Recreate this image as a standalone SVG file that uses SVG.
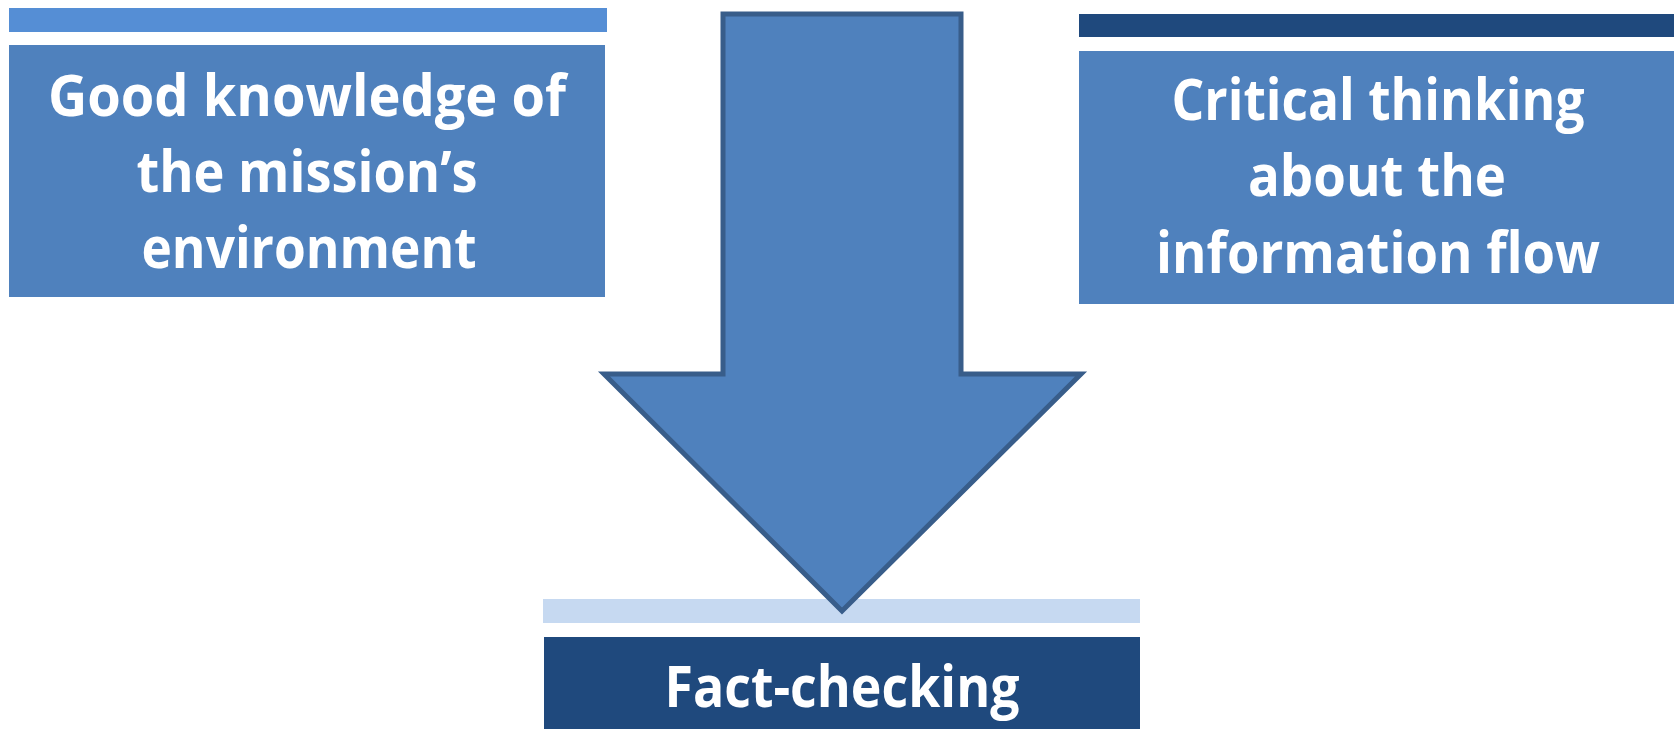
<svg xmlns="http://www.w3.org/2000/svg" width="1674" height="729" viewBox="0 0 1674 729">
<style>
.t{font-family:"Open Sans","Noto Sans","Liberation Sans",sans-serif;font-weight:700;font-size:58px;fill:#FFFFFF;text-anchor:middle}
.box{fill:#4F81BD}
.dark{fill:#1F497D}
</style>
<rect x="0" y="0" width="1674" height="729" fill="#FFFFFF"/>
<g id="node-knowledge">
<rect x="9" y="8" width="598" height="24" fill="#558ED5"/>
<rect class="box" x="9" y="45" width="596" height="252"/>
<text class="t" x="307" y="116" textLength="518" lengthAdjust="spacingAndGlyphs">Good knowledge of</text>
<text class="t" x="307" y="192" textLength="341" lengthAdjust="spacingAndGlyphs">the mission’s</text>
<text class="t" x="309" y="268" textLength="335" lengthAdjust="spacingAndGlyphs">environment</text>
</g>
<g id="node-critical">
<rect class="dark" x="1079" y="14" width="595" height="23"/>
<rect class="box" x="1079" y="51" width="595" height="253"/>
<text class="t" x="1378" y="120" textLength="413" lengthAdjust="spacingAndGlyphs">Critical thinking</text>
<text class="t" x="1377" y="196" textLength="258" lengthAdjust="spacingAndGlyphs">about the</text>
<text class="t" x="1378" y="273" textLength="444" lengthAdjust="spacingAndGlyphs">information flow</text>
</g>
<g id="node-factchecking">
<rect x="543" y="599" width="597" height="24" fill="#C6D9F1"/>
<rect class="dark" x="544" y="637" width="596" height="92"/>
<text class="t" x="842" y="707" textLength="355" lengthAdjust="spacingAndGlyphs">Fact-checking</text>
</g>
<g id="connectors">
<polygon points="723,14 961,14 961,374 1081,374 842,611 604,374 723,374" fill="#4F81BD" stroke="#385D8A" stroke-width="5" stroke-linejoin="miter"/>
</g>
</svg>
